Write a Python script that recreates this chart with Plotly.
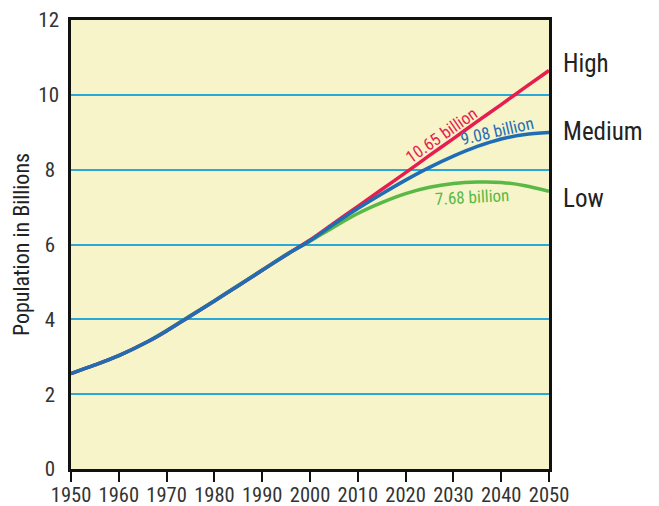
import plotly.graph_objects as go

years = [1950, 1955, 1960, 1966, 1970, 1975, 1980, 1985, 1990, 1995, 2000, 2005, 2010, 2015, 2020, 2025, 2030, 2035, 2040, 2045, 2050]
high = [2.55, 2.78, 3.03, 3.40, 3.69, 4.09, 4.49, 4.90, 5.31, 5.72, 6.12, 6.57, 7.02, 7.47, 7.92, 8.38, 8.83, 9.29, 9.74, 10.20, 10.65]
medium = [2.55, 2.78, 3.03, 3.40, 3.69, 4.09, 4.49, 4.90, 5.31, 5.72, 6.10, 6.54, 6.96, 7.35, 7.72, 8.06, 8.36, 8.62, 8.82, 8.94, 8.99]
low = [2.55, 2.78, 3.03, 3.40, 3.70, 4.10, 4.50, 4.91, 5.32, 5.73, 6.09, 6.47, 6.83, 7.12, 7.36, 7.53, 7.63, 7.67, 7.66, 7.57, 7.42]
y_ticks = [0, 2, 4, 6, 8, 10, 12]
x_ticks = list(range(1950, 2051, 10))

FONT = "Arial Narrow, Roboto Condensed, Roboto, sans-serif"
RED = "#e61e4f"
BLUE = "#1f6db5"
GREEN = "#5ab946"

fig = go.Figure()
for ys, col in [(low, GREEN), (high, RED), (medium, BLUE)]:
    fig.add_trace(go.Scatter(x=years, y=ys, mode="lines",
                             line=dict(color=col, width=3.5, shape="spline", smoothing=0.8),
                             hoverinfo="skip", showlegend=False))

# pad single-digit labels so that labels look centred like the original
y_text = [str(v) + ("\u2009" if v < 10 else "") for v in y_ticks]

fig.update_layout(
    width=651, height=498,
    margin=dict(l=63, r=110, t=12, b=37, autoexpand=False),
    paper_bgcolor="white",
    plot_bgcolor="#f6f4c8",
    font=dict(family=FONT, size=20, color="#333333"),
    xaxis=dict(range=[1950, 2050], tickmode="array", automargin=False,
               tickvals=x_ticks,
               showgrid=False, zeroline=False,
               showline=True, linecolor="#111111", linewidth=2.5, mirror=True,
               ticks="outside", ticklen=10, tickcolor="#111111", tickwidth=1.5,
               ticklabelstandoff=-4, ticklabeloverflow="allow",
               tickfont=dict(size=20.5, color="#333333")),
    yaxis=dict(range=[0, 12], tickmode="array", tickvals=y_ticks, ticktext=y_text, automargin=False,
               showgrid=True, gridcolor="#2aa8d8", gridwidth=1.5, zeroline=False,
               showline=True, linecolor="#111111", linewidth=2.5, mirror=True,
               ticks="", ticklabelstandoff=5, ticklabeloverflow="allow",
               tickfont=dict(size=21, color="#333333"),
               title=dict(text="Population in Billions", font=dict(size=22, color="#222222"), standoff=3)),
)

ann = [
    dict(x=2027.5, y=8.93, text="10.65 billion", textangle=-35, font=dict(color=RED, size=17)),
    dict(x=2039.1, y=9.03, text="9.08 billion", textangle=-13, font=dict(color=BLUE, size=17)),
    dict(x=2033.8, y=7.26, text="7.68 billion", textangle=-3, font=dict(color=GREEN, size=17)),
]
for a in ann:
    fig.add_annotation(xref="x", yref="y", showarrow=False, font_family=FONT, **{k: v for k, v in a.items()})

for txt, yv in [("High", 10.83), ("Medium", 9.03), ("Low", 7.22)]:
    fig.add_annotation(xref="paper", yref="y", x=1, y=yv, xshift=12, xanchor="left",
                       text=txt, showarrow=False, font=dict(family=FONT, size=25, color="#222222"))

fig.write_html("out.html")
